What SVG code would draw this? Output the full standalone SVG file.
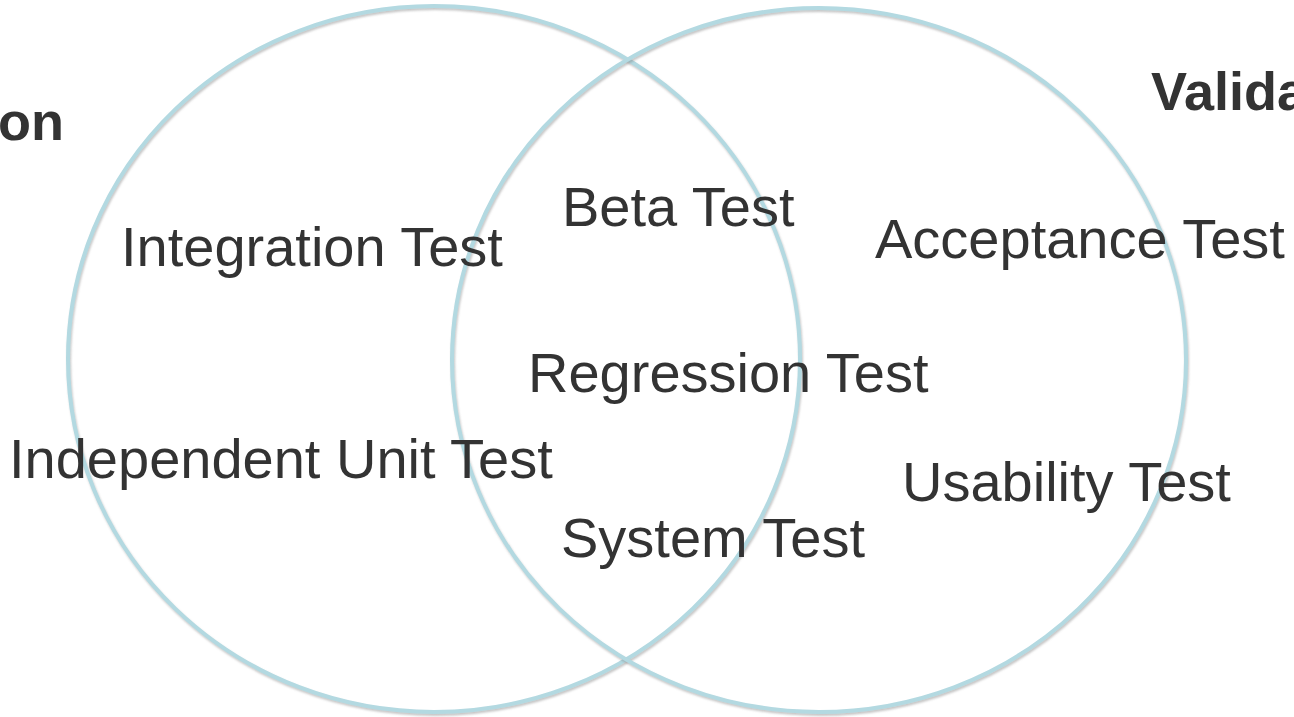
<svg xmlns="http://www.w3.org/2000/svg" width="1294" height="717" viewBox="0 0 1294 717">
  <defs>
    <filter id="soft-shadow" x="-5%" y="-5%" width="110%" height="110%">
      <feDropShadow dx="1" dy="2" stdDeviation="1.2" flood-color="#808080" flood-opacity="0.45"/>
    </filter>
  </defs>
  <style>
    .ring { fill: none; stroke: #b3d9e1; stroke-width: 4; filter: url(#soft-shadow); }
    .label { font-family: "Liberation Sans", Arial, sans-serif; font-size: 56px; fill: #333333; }
    .title { font-family: "Liberation Sans", Arial, sans-serif; font-size: 54px; font-weight: bold; fill: #333333; }
  </style>
  <rect x="0" y="0" width="1294" height="717" fill="#ffffff"/>

  <!-- overlapping rings -->
  <g id="ring-left">
    <ellipse class="ring" cx="434" cy="359" rx="366" ry="353"/>
  </g>
  <g id="ring-right">
    <ellipse class="ring" cx="819" cy="360" rx="367" ry="352"/>
  </g>

  <!-- set titles -->
  <g id="title-left">
    <text class="title" x="64" y="140" text-anchor="end">on</text>
  </g>
  <g id="title-right">
    <text class="title" x="1151" y="110">Valida</text>
  </g>

  <!-- left-only items -->
  <g id="integration-test">
    <text class="label" x="121" y="266">Integration Test</text>
  </g>
  <g id="independent-unit-test">
    <text class="label" x="9" y="478">Independent Unit Test</text>
  </g>

  <!-- shared items -->
  <g id="beta-test">
    <text class="label" x="562" y="226">Beta Test</text>
  </g>
  <g id="regression-test">
    <text class="label" x="528" y="392">Regression Test</text>
  </g>
  <g id="system-test">
    <text class="label" x="561" y="557">System Test</text>
  </g>

  <!-- right-only items -->
  <g id="acceptance-test">
    <text class="label" x="875" y="258">Acceptance Test</text>
  </g>
  <g id="usability-test">
    <text class="label" x="902" y="501">Usability Test</text>
  </g>
</svg>
